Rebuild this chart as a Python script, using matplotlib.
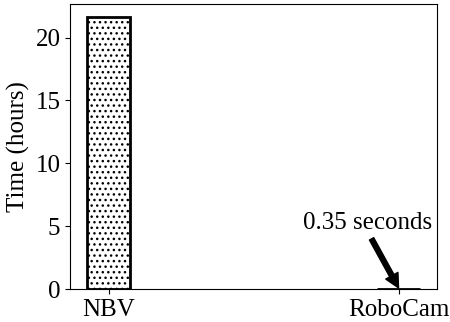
import numpy as np
import matplotlib.pyplot as plt

plt.rcParams['font.family'] = ['Liberation Serif', 'DejaVu Serif']
plt.rcParams['hatch.linewidth'] = 1.0

# data
metodos = ['NBV', 'RoboCam']
tempo_horas = [21.6, 0.35 / 3600.0]
texto_anot = '0.35 seconds'

fig, ax = plt.subplots(figsize=(4.5, 3.22), dpi=100)
x = np.arange(len(metodos))
ax.bar(x, tempo_horas, width=0.15, color='white', edgecolor='black',
       linewidth=2, hatch='...')

ax.set_xticks(x)
ax.set_xticklabels(metodos, fontsize=18)
ax.set_ylabel('Time (hours)', fontsize=18)
ax.set_yticks([0, 5, 10, 15, 20])
ax.tick_params(axis='y', labelsize=18)

# texto e seta
ax.text(x[1] - 0.107, 4.35, texto_anot, fontsize=18, ha='center', va='bottom')
ax.annotate('', xy=(x[1], 0.1), xytext=(x[1] - 0.093, 4.0),
            arrowprops=dict(facecolor='black', edgecolor='black', width=3.5,
                            headwidth=10, headlength=10, shrink=0.0))

fig.subplots_adjust(left=0.156, right=0.971, top=0.988, bottom=0.102)
plt.savefig('out.png', dpi=100)
